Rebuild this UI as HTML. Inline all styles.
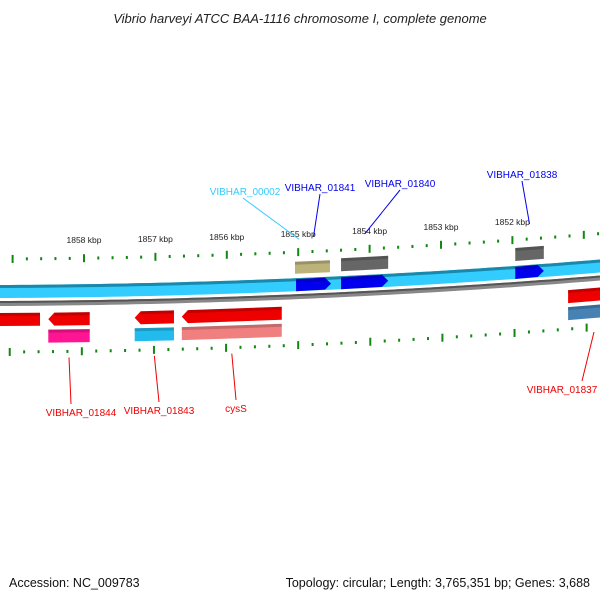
<!DOCTYPE html>
<html><head><meta charset="utf-8"><style>
body{margin:0;background:#fff;}
svg{display:block;font-family:"Liberation Sans","DejaVu Sans",sans-serif;}
</style></head><body>
<svg id="chart" width="600" height="600" viewBox="0 0 600 600">
<text x="300" y="23" text-anchor="middle" font-size="13" font-style="italic" fill="#222">Vibrio harveyi ATCC BAA-1116 chromosome I, complete genome</text>
<text x="9" y="587" font-size="12.5" fill="#111">Accession: NC_009783</text>
<text x="590" y="587" text-anchor="end" font-size="12.5" fill="#111">Topology: circular; Length: 3,765,351 bp; Genes: 3,688</text>
<g id="g"></g>
</svg>
<script>
const kbpLabels=[1858,1857,1856,1855,1854,1853,1852];
const tickKb=[1859,1858,1857,1856,1855,1854,1853,1852,1851];
const geneNames=["VIBHAR_00002","VIBHAR_01841","VIBHAR_01840","VIBHAR_01838","VIBHAR_01844","VIBHAR_01843","cysS","VIBHAR_01837"];
const geneStart=[1855.045,1855.03,1854.40,1851.96,1858.50,1857.29,1856.63,1851.22];
const geneEnd=[1854.555,1854.54,1853.74,1851.56,1857.92,1856.74,1855.23,1850.77];
const geneStrand=[0,1,1,1,-1,-1,-1,-1];
const geneHasBox=[0,0,1,1,1,1,1,1];
const NS="http://www.w3.org/2000/svg";
const g=document.getElementById('g');
const X=kb=>84+(1858-kb)*71.4;
const C=x=>-6.4e-5*x*x-0.004*x;
function el(t,a,name){const e=document.createElementNS(NS,t);for(const k in a)e.setAttribute(k,a[k]);


g.appendChild(e);return e;}
function band(x1,x2,base,h,fill,name,dir){
 const y1=base+C(x1),y2=base+C(x2),a=6;let pts;
 if(dir===1)pts=[[x1,y1],[x2-a,y2],[x2,y2+h/2],[x2-a,y2+h],[x1,y1+h]];
 else if(dir===-1)pts=[[x1+a,y1],[x2,y2],[x2,y2+h],[x1+a,y1+h],[x1,y1+h/2]];
 else pts=[[x1,y1],[x2,y2],[x2,y2+h],[x1,y1+h]];
 el('polygon',{points:pts.map(p=>p.join(',')).join(' '),fill},name);
 const l=x1+(dir===-1?a:0),r=x2-(dir===1?a:0);
 el('polygon',{points:[[l,y1],[r,y2],[r,y2+3],[l,y1+3]].map(p=>p.join(',')).join(' '),fill:'#000',opacity:0.18},name+'-shade');
}
function path(base,h,fill,name){let d='';for(let x=0;x<=600;x+=10){d+=(x?'L':'M')+x+','+(base+C(x));}
 for(let x=600;x>=0;x-=10){d+='L'+x+','+(base+h+C(x));}el('path',{d:d+'Z',fill},name);}
path(285,13,'#33ccff','forward-track');
path(285,3,'#1a88aa','forward-track-edge');
path(301,5,'#888','backbone-line');
path(301,2,'#555','backbone-edge');
function ticks(base,scale,name){
 for(let i=0;i<tickKb.length;i++){
  for(let j=0;j<5;j++){const kb=tickKb[i]-j*0.2;let x=X(kb);x=300+(x-300)*scale;if(x<0||x>600)continue;
   const y=base+C(x);const major=j===0;
   el('rect',{x:x-1,y:major?y-4:y-1.5,width:2,height:major?8:3,fill:'#118811'},name+(major?'-major-tick':'-minor-tick'));}
 }}
ticks(259,1,'top');ticks(352,1.01,'bottom');
kbpLabels.forEach(kb=>{const x=X(kb);const t=el('text',{x,y:244+C(x),'text-anchor':'middle','font-size':8.5,fill:'#222'},'kbp-label');t.textContent=kb+' kbp';});
const labelPos=[[245,195,'#33ccff'],[320,191,'#0000ee'],[400,187,'#0000ee'],[522,178,'#0000ee'],[81,416,'#ee0000'],[159,414,'#ee0000'],[236,412,'#ee0000'],[562,393,'#ee0000']];
const lowerCol=['','','#666','#666','#ff1493','#22bbee','#f08080','#4682b4'];
for(let i=0;i<geneNames.length;i++){
 const x1=X(geneStart[i]),x2=Math.min(X(geneEnd[i]),600);let anchorY,ax=(x1+x2)/2;
 if(geneStrand[i]===0){band(x1,x2,268.5,12,'#bbb37a','gene-'+geneNames[i]);anchorY=246+C(x1);ax=x1+4;}
 else if(geneStrand[i]===1){if(geneHasBox[i])band(x1,x2,267,13,lowerCol[i],'gene-box-'+geneNames[i]);band(x1,x2,286,12,'#0000ee','gene-'+geneNames[i],1);anchorY=244+C(ax);}
 else{band(x1,x2,313,13,'#ee0000','gene-'+geneNames[i],x2>=600?0:-1);band(x1,x2,330,13,lowerCol[i],'gene-box-'+geneNames[i]);anchorY=358+C(ax);}
 const [lx,ly,c]=labelPos[i];
 if(i===7){ax=594;anchorY=332;}
 el('line',{x1:lx+(i===0?-2:i===7?20:i===4?-10:0),y1:geneStrand[i]>=0?ly+3:ly-12,x2:ax,y2:anchorY,stroke:c,'stroke-width':1},'leader-'+geneNames[i]);
 const t=el('text',{x:lx,y:ly,'text-anchor':'middle','font-size':10,fill:c},'label-'+geneNames[i]);t.textContent=geneNames[i];
}
band(0,40,313,13,'#ee0000','gene-left-edge',0);
</script>
</body></html>
